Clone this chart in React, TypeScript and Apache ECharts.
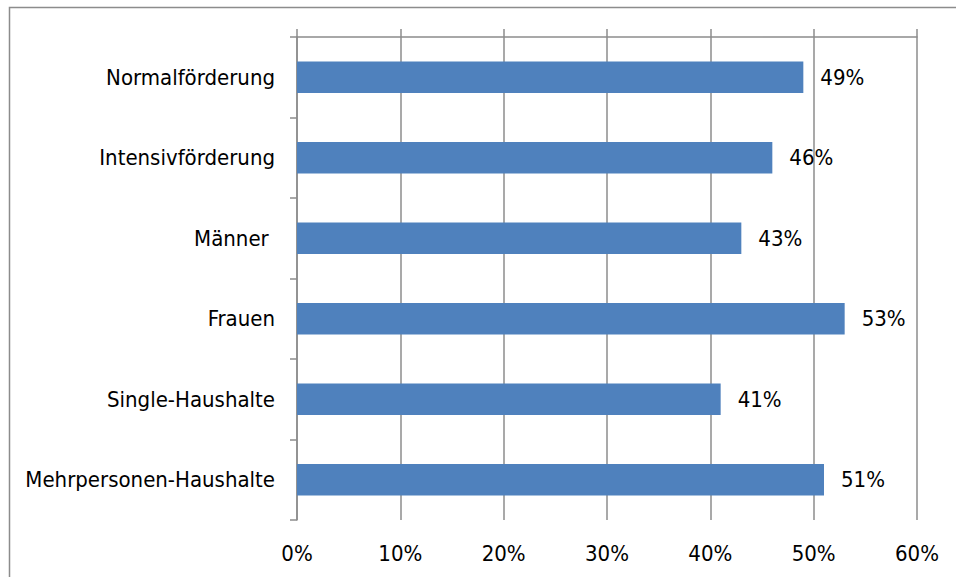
import React, { useEffect, useRef } from "react";
import * as echarts from "echarts";

const categories = [
  "Normalförderung",
  "Intensivförderung",
  "Männer ",
  "Frauen",
  "Single-Haushalte",
  "Mehrpersonen-Haushalte",
];
const values = [49, 46, 43, 53, 41, 51];
const axisMin = 0;
const axisMax = 60;
const axisStep = 10;

const FONT = "'Liberation Sans Narrow', 'DejaVu Sans Condensed', 'Arial Narrow', sans-serif";
const GRAY = "#8c8c8c";

export default function App() {
  const ref = useRef<HTMLDivElement>(null);
  useEffect(() => {
    if (!ref.current) return;
    const chart = echarts.init(ref.current, undefined, { renderer: "svg" });
    chart.setOption({
      animation: false,
      backgroundColor: "#fff",
      textStyle: { fontFamily: FONT },
      graphic: [
        {
          type: "rect",
          shape: { x: 9.5, y: 7.5, width: 1000, height: 700 },
          style: { fill: "none", stroke: GRAY, lineWidth: 1.5 },
          silent: true,
          z: -10,
        },
      ],
      grid: [
        { left: 297, right: 39, top: 37, bottom: 57 },
        { left: 297, right: 39, top: 29, height: 8 },
      ],
      xAxis: [
        {
          type: "value",
          gridIndex: 0,
          min: axisMin,
          max: axisMax,
          interval: axisStep,
          axisLine: { show: false },
          axisTick: { show: false },
          splitLine: { show: true, lineStyle: { color: GRAY, width: 1.5 } },
          axisLabel: {
            formatter: "{value}%",
            color: "#000",
            fontSize: 22,
            fontFamily: FONT,
            margin: 22,
          },
        },
        {
          type: "value",
          gridIndex: 1,
          min: axisMin,
          max: axisMax,
          interval: axisStep,
          position: "bottom",
          axisLine: { show: true, lineStyle: { color: GRAY, width: 1.5 } },
          axisTick: { show: false },
          axisLabel: { show: false },
          splitLine: { show: true, lineStyle: { color: GRAY, width: 1.5 } },
        },
      ],
      yAxis: [
        {
          type: "category",
          gridIndex: 0,
          data: categories,
          inverse: true,
          axisLine: { show: true, lineStyle: { color: GRAY, width: 1.5 } },
          axisTick: { show: true, length: 7, lineStyle: { color: GRAY, width: 1.5 } },
          axisLabel: {
            color: "#000",
            fontSize: 22,
            fontFamily: FONT,
            margin: 22,
          },
          splitLine: { show: false },
        },
        { type: "value", gridIndex: 1, show: false },
      ],
      series: [
        {
          type: "bar",
          xAxisIndex: 0,
          yAxisIndex: 0,
          data: values,
          barWidth: "39%",
          itemStyle: { color: "#4F81BD" },
          label: {
            show: true,
            position: "right",
            distance: 17,
            formatter: "{c}%",
            color: "#000",
            fontSize: 22,
            fontFamily: FONT,
          },
        },
      ],
    });
    return () => chart.dispose();
  }, []);
  return (
    <div
      ref={ref}
      style={{ position: "fixed", left: 0, top: 0, width: 956, height: 577 }}
    />
  );
}
